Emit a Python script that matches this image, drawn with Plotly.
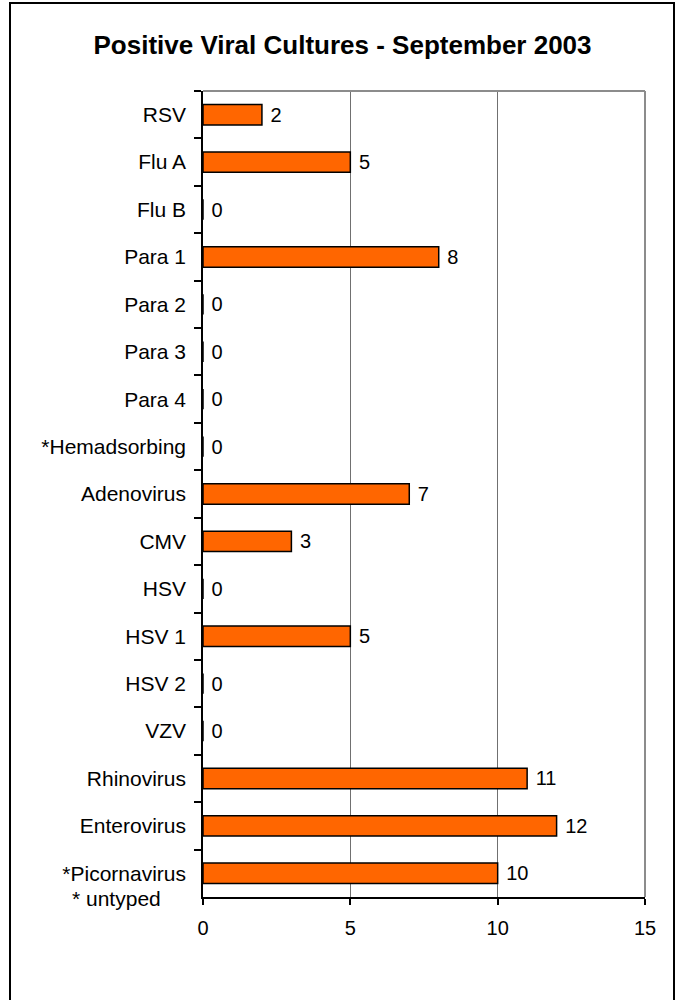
import plotly.graph_objects as go

categories = ["RSV", "Flu A", "Flu B", "Para 1", "Para 2", "Para 3", "Para 4",
              "*Hemadsorbing", "Adenovirus", "CMV", "HSV", "HSV 1", "HSV 2",
              "VZV", "Rhinovirus", "Enterovirus", "*Picornavirus"]
values = [2, 5, 0, 8, 0, 0, 0, 0, 7, 3, 0, 5, 0, 0, 11, 12, 10]
x_ticks = [0, 5, 10, 15]
title = "Positive Viral Cultures - September 2003"
footnote = "* untyped"

FONT = "Liberation Sans, Arial, sans-serif"

fig = go.Figure()
fig.add_trace(go.Bar(
    x=values, y=categories, orientation="h",
    marker=dict(color="#FF6600", line=dict(color="black", width=1.5)),
    width=0.43,
    text=[str(v) for v in values],
    texttemplate="\u00a0%{text}",
    textposition="outside",
    constraintext="none",
    textfont=dict(family=FONT, size=20, color="black"),
    cliponaxis=False,
    hoverinfo="skip",
))

L, R, T, B = 203, 645, 91, 897
W, H = 676, 1000

def px(x):
    return (x - L) / (R - L)

def py(y):
    return (B - y) / (B - T)

fig.update_layout(
    width=W, height=H,
    margin=dict(l=L, r=W - R, t=T, b=H - B),
    paper_bgcolor="white", plot_bgcolor="white",
    showlegend=False,
    title=dict(text="<b>" + title + "</b>", x=342.5 / W, xref="container", xanchor="center",
               y=1 - 45 / H, yref="container", yanchor="middle",
               font=dict(family=FONT, size=26, color="black")),
    xaxis=dict(range=[0, 15], tickvals=x_ticks, ticktext=[str(t) for t in x_ticks],
               showgrid=True, gridcolor="#707070", gridwidth=1,
               showline=True, linecolor="black", linewidth=1.5,
               ticks="outside", ticklen=6, tickcolor="black", tickwidth=1.5,
               ticklabelstandoff=6,
               tickfont=dict(family=FONT, size=20, color="black"),
               zeroline=False, fixedrange=True),
    yaxis=dict(categoryorder="array", categoryarray=categories, autorange="reversed",
               showline=True, linecolor="black", linewidth=1.5,
               ticks="outside", ticklen=7, tickcolor="black", tickwidth=1.5,
               tickson="boundaries", ticklabelstandoff=11,
               tickfont=dict(family=FONT, size=21, color="black"),
               showgrid=False, zeroline=False, fixedrange=True),
    bargap=0.57,
)

# plot area top/right border (gray)
fig.add_shape(type="line", xref="paper", yref="paper", x0=0, x1=1, y0=1, y1=1,
              line=dict(color="#8c8c8c", width=2))
fig.add_shape(type="line", xref="paper", yref="paper", x0=1, x1=1, y0=0, y1=1,
              line=dict(color="#8c8c8c", width=2))
# outer chart border
fig.add_shape(type="rect", xref="paper", yref="paper",
              x0=px(10), x1=px(674), y0=py(1006), y1=py(3),
              line=dict(color="black", width=2), fillcolor="rgba(0,0,0,0)", layer="below")

fig.add_annotation(text=footnote, xref="paper", yref="paper", x=px(116), y=py(899),
                   xanchor="center", yanchor="middle", showarrow=False,
                   font=dict(family=FONT, size=21, color="black"))

fig.write_html("out.html", config={"displayModeBar": False},
               post_script="document.body.style.margin='0';document.body.style.overflow='hidden';")
